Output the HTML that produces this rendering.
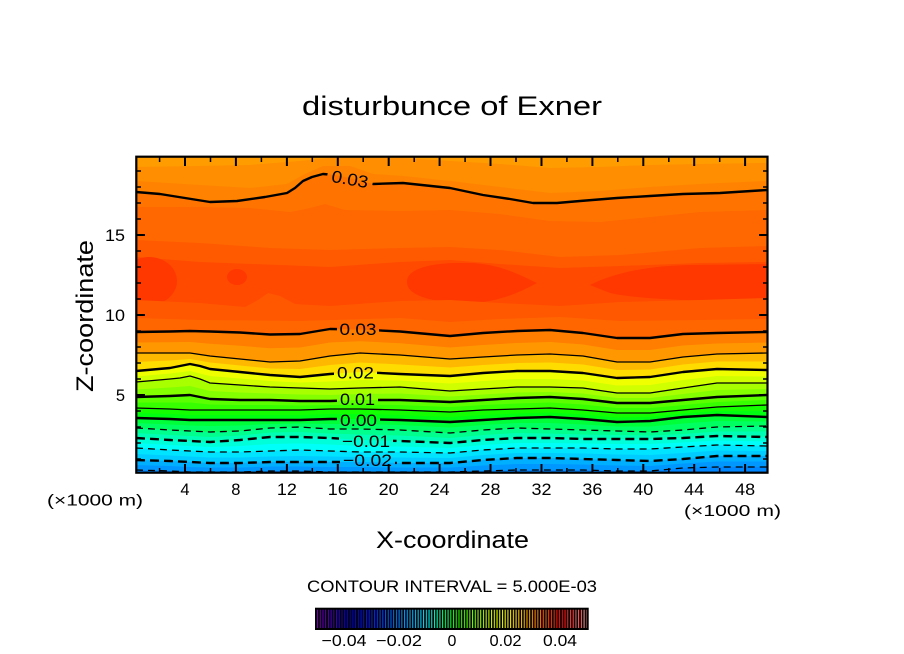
<!DOCTYPE html>
<html>
<head>
<meta charset="utf-8">
<style>
html,body{margin:0;padding:0;background:#fff;}
svg{display:block;}
text{font-family:"Liberation Sans",sans-serif;fill:#000;}
</style>
</head>
<body>
<svg width="904" height="654" viewBox="0 0 904 654" xmlns="http://www.w3.org/2000/svg">
<defs>
  <clipPath id="pc"><rect x="136" y="157" width="631.5" height="316"/></clipPath>
  <mask id="lm" maskUnits="userSpaceOnUse" x="0" y="0" width="904" height="654">
    <rect x="0" y="0" width="904" height="654" fill="#fff"/>
    <rect x="327" y="169" width="46" height="20" fill="#000" transform="rotate(11 350 179)"/>
    <rect x="337" y="321" width="42" height="16" fill="#000"/>
    <rect x="334" y="364" width="43" height="17" fill="#000"/>
    <rect x="337" y="391" width="41" height="16" fill="#000"/>
    <rect x="337" y="412" width="43" height="15" fill="#000"/>
    <rect x="339" y="433" width="54" height="16" fill="#000"/>
    <rect x="340" y="454" width="55" height="14" fill="#000"/>
  </mask>
  <linearGradient id="cbg" gradientUnits="userSpaceOnUse" x1="317" y1="0" x2="588" y2="0">
    <stop offset="0" stop-color="#7a00b4"/>
    <stop offset="0.06" stop-color="#4000c0"/>
    <stop offset="0.12" stop-color="#0000c8"/>
    <stop offset="0.20" stop-color="#0020f0"/>
    <stop offset="0.27" stop-color="#0064ff"/>
    <stop offset="0.34" stop-color="#00a8ff"/>
    <stop offset="0.40" stop-color="#00e0ff"/>
    <stop offset="0.44" stop-color="#00ffc0"/>
    <stop offset="0.48" stop-color="#00ff60"/>
    <stop offset="0.51" stop-color="#10ff00"/>
    <stop offset="0.58" stop-color="#80ff00"/>
    <stop offset="0.64" stop-color="#d0ff00"/>
    <stop offset="0.70" stop-color="#ffff00"/>
    <stop offset="0.74" stop-color="#ffd000"/>
    <stop offset="0.80" stop-color="#ff9000"/>
    <stop offset="0.86" stop-color="#ff4000"/>
    <stop offset="0.90" stop-color="#ff0000"/>
    <stop offset="0.95" stop-color="#ff5050"/>
    <stop offset="1" stop-color="#ff9090"/>
  </linearGradient>
  <pattern id="st" x="317" y="0" width="2.72" height="654" patternUnits="userSpaceOnUse">
    <rect x="1.05" y="0" width="1.67" height="654" fill="#000"/>
  </pattern>
</defs>

<!-- Title -->
<text x="302" y="115" font-size="27" textLength="300" lengthAdjust="spacingAndGlyphs">disturbunce of Exner</text>

<!-- Filled contours -->
<g clip-path="url(#pc)">
  <rect x="136" y="157" width="632" height="317" fill="#ff9c00"/>
  <polygon fill="#ff8e00" points="136,475 136,167 200,166 250,165 300,161 330,158 400,158 450,161 500,164 550,168 600,167 650,165 700,164 767,163 768,475"/>
  <polygon fill="#ff8200" points="136,475 136,181 200,185 250,188 287,184 303,175 323,166 350,166 373,174 403,176 450,181 500,187 550,193 600,191 650,187 700,184 767,181 768,475"/>
  <polygon fill="#ff7400" points="136,475 136,192 160,194 185,198 210,202 237,201 265,197 287,193 295,188 303,181 312,177 323,174 335,175 350,178 373,184 403,183 450,188 483,195 510,199 533,203 557,203 580,201 617,198 650,196 683,194 720,193 767,190 768,475"/>
  <polygon fill="#ff6800" points="136,475 136,207 200,207 250,208 290,212 310,208 325,204 345,210 400,211 450,210 500,214 550,221 600,222 650,217 700,212 767,210 768,475"/>
  <polygon fill="#ff5a00" points="136,475 136,240 200,243 270,248 330,250 400,248 450,247 500,250 560,257 620,255 700,248 767,246 768,475"/>
  <polygon fill="#ff4a00" points="136,475 136,257 200,262 280,265 330,267 400,262 450,260 500,264 560,268 620,266 700,263 767,262 768,475"/>
  <ellipse cx="149" cy="281" rx="28" ry="24" fill="#ff3800"/>
  <ellipse cx="237" cy="277" rx="10" ry="8" fill="#ff3800"/>
  <path fill="#ff3800" d="M407,282 C407,266 440,262 470,263 C500,264 520,275 537,283 C520,292 500,302 470,303 C440,303 407,298 407,282 Z"/>
  <path fill="#ff3800" d="M590,285 C610,275 640,266 690,265 L768,264 L768,301 C720,302 640,300 610,293 Z"/>
  <polygon fill="#ff5800" points="136,475 136,300 200,303 245,307 258,300 268,293 280,296 295,304 330,306 400,301 450,300 500,303 560,306 620,302 700,300 767,298 768,475"/>
  <polygon fill="#ff6600" points="136,475 136,318 200,320 300,321 400,318 450,322 500,319 560,317 620,321 700,320 767,319 768,475"/>
  <polygon fill="#ff7e00" points="136,475 136,332 170,331.5 190,331 210,331.5 240,332.5 270,334.5 300,334 330,329 360,329.5 400,331.5 450,336 483,333 517,331 550,330 583,333 617,338 650,338 683,334 717,333 767,332 768,475"/>
  <polygon fill="#ff9800" points="136,475 136,342.5 170,342.3 190,342 210,343.8 240,345.8 270,348.3 300,347.5 330,342.5 360,341.3 400,343.3 450,347.5 483,345 517,343 550,342 583,344.5 617,350 650,350 683,345.5 717,343.5 767,342.5 768,475"/>
  <polygon fill="#ffb800" points="136,475 136,353 170,353 190,353 210,356 240,359 270,362 300,361 330,356 360,353 400,355 450,359 483,357 517,355 550,354 583,356 617,362 650,362 683,357 717,354 767,353 768,475"/>
  <polygon fill="#ffdc00" points="136,475 136,362 170,360.5 190,359 210,362.5 240,365.5 270,368.5 300,369 330,365 360,362.5 400,364.5 450,367.5 483,365 517,363 550,362.5 583,364.5 617,370 650,369.5 683,364.5 717,361.5 767,361.5 768,475"/>
  <polygon fill="#f0ff00" points="136,475 136,371 170,368 190,365 210,369 240,372 270,375 300,377 330,374 360,372 400,374 450,376 483,373 517,371 550,371 583,373 617,378 650,377 683,372 717,369 767,370 768,475"/>
  <polygon fill="#d0ff00" points="136,475 136,376.5 170,373.5 190,371 210,376 240,378.5 270,381 300,382.5 330,381.5 360,380 400,380.5 450,383.5 483,381 517,379 550,379 583,380.5 617,385.5 650,385 683,380 717,376 767,376.5 768,475"/>
  <polygon fill="#a8ff00" points="136,475 136,382 170,379 190,377 210,383 240,385 270,387 300,388 330,389 360,388 400,387 450,391 483,389 517,387 550,387 583,388 617,393 650,393 683,388 717,383 767,383 768,475"/>
  <polygon fill="#84ff00" points="136,475 136,389.5 170,387.5 190,386 210,391 240,392.5 270,393.5 300,394.5 330,395 360,394 400,393.5 450,396.5 483,394.5 517,392.5 550,392 583,393.5 617,398 650,398 683,394 717,390 767,389 768,475"/>
  <polygon fill="#5cff00" points="136,475 136,397 170,396 190,395 210,399 240,400 270,400 300,401 330,401 360,400 400,400 450,402 483,400 517,398 550,397 583,399 617,403 650,403 683,400 717,397 767,395 768,475"/>
  <polygon fill="#38ff00" points="136,475 136,402.5 170,402.5 190,402.5 210,404.5 240,405 270,405 300,405.5 330,405 360,404.5 400,405 450,407 483,405 517,403.5 550,402.5 583,404.5 617,408 650,408 683,405 717,402 767,400 768,475"/>
  <polygon fill="#14ff00" points="136,475 136,408 170,409 190,410 210,410 240,410 270,410 300,410 330,409 360,409 400,410 450,412 483,410 517,409 550,408 583,410 617,413 650,413 683,410 717,407 767,405 768,475"/>
  <polygon fill="#00ff10" points="136,475 136,413 170,414 190,415 210,415 240,415 270,415 300,415 330,414 360,414 400,415 450,417 483,415 517,413.5 550,412.5 583,414.5 617,417.5 650,417 683,413.5 717,411 767,411 768,475"/>
  <polygon fill="#00ff38" points="136,475 136,418 170,419 190,420 210,420 240,420 270,420 300,420 330,419 360,419 400,420 450,422 483,420 517,418 550,417 583,419 617,422 650,421 683,417 717,415 767,417 768,475"/>
  <polygon fill="#00ff60" points="136,475 136,423 170,424.5 190,425.5 210,426 240,425.5 270,424 300,423.5 330,424 360,424 400,425 450,427.5 483,425 517,423 550,423 583,424.5 617,426.5 650,426.5 683,423.5 717,421 767,421.5 768,475"/>
  <polygon fill="#00ff8c" points="136,475 136,428 170,430 190,431 210,432 240,431 270,428 300,427 330,429 360,429 400,430 450,433 483,430 517,428 550,429 583,430 617,431 650,432 683,430 717,427 767,426 768,475"/>
  <polygon fill="#00ffb4" points="136,475 136,433 170,435 190,436 210,437 240,435.5 270,432.5 300,432 330,433.5 360,434.5 400,435.5 450,438 483,435 517,433 550,433.5 583,434.5 617,435 650,435.5 683,434 717,431.5 767,431.5 768,475"/>
  <polygon fill="#00ffd8" points="136,475 136,438 170,440 190,441 210,442 240,440 270,437 300,437 330,438 360,440 400,441 450,443 483,440 517,438 550,438 583,439 617,439 650,439 683,438 717,436 767,437 768,475"/>
  <polygon fill="#00fff8" points="136,475 136,443 170,445 190,446 210,447 240,446 270,444 300,443.5 330,444.5 360,446 400,446.5 450,448 483,445 517,443 550,443 583,443.5 617,444 650,444 683,442.5 717,440.5 767,441.5 768,475"/>
  <polygon fill="#00e4ff" points="136,475 136,448 170,450 190,451 210,452 240,452 270,451 300,450 330,451 360,452 400,452 450,453 483,450 517,448 550,448 583,448 617,449 650,449 683,447 717,445 767,446 768,475"/>
  <polygon fill="#00ccff" points="136,475 136,454 170,455.5 190,456.5 210,457.5 240,457.5 270,456.5 300,456 330,456.5 360,457 400,457.5 450,458 483,455 517,453 550,453 583,453.5 617,454.5 650,455 683,453 717,450.5 767,451 768,475"/>
  <polygon fill="#00b0ff" points="136,475 136,460 170,461 190,462 210,463 240,463 270,462 300,462 330,462 360,462 400,463 450,463 483,460 517,458 550,458 583,459 617,460 650,461 683,459 717,456 767,456 768,475"/>
  <polygon fill="#0098ff" points="136,475 136,465 170,466 190,467 210,467.5 240,467.5 270,466.5 300,466.5 330,467 360,467 400,467.5 450,467.5 483,465.5 517,464 550,464 583,464.5 617,465.5 650,466 683,463.5 717,461.5 767,461.5 768,475"/>
  <polygon fill="#0086ff" points="136,475 136,470 170,471 190,472 210,472 240,472 270,471 300,471 330,472 360,472 400,472 450,472 483,471 517,470 550,470 583,470 617,471 650,471 683,468 717,467 767,467 768,475"/>

  <g fill="none" stroke="#000" stroke-width="1.3" stroke-linejoin="round">
    <polyline points="136,353 170,353 190,353 210,356 240,359 270,362 300,361 330,356 360,353 400,355 450,359 483,357 517,355 550,354 583,356 617,362 650,362 683,357 717,354 767,353"/>
    <polyline points="136,382 170,379 180,378 190,376 200,379 210,383 240,385 270,387 300,388 330,389 360,388 400,387 450,391 483,389 517,387 550,387 583,388 617,393 650,393 683,388 717,383 767,383"/>
    <polyline points="136,408 170,409 190,410 210,410 240,410 270,410 300,410 330,409 360,409 400,410 450,412 483,410 517,409 550,408 583,410 617,413 650,413 683,410 717,407 767,405"/>
  </g>
  <g fill="none" stroke="#000" stroke-width="1.3" stroke-dasharray="7 5">
    <polyline points="136,428 170,430 190,431 210,432 240,431 270,428 300,427 330,429 360,429 400,430 450,433 483,430 517,428 550,429 583,430 617,431 650,432 683,430 717,427 767,426"/>
    <polyline points="136,448 170,450 190,451 210,452 240,452 270,451 300,450 330,451 360,452 400,452 450,453 483,450 517,448 550,448 583,448 617,449 650,449 683,447 717,445 767,446"/>
    <polyline points="136,470 170,471 190,472 210,472 240,472 270,471 300,471 330,472 360,472 400,472 450,472 483,471 517,470 550,470 583,470 617,471 650,471 683,468 717,467 767,467"/>
  </g>
  <g mask="url(#lm)" fill="none" stroke="#000" stroke-width="2.4" stroke-linejoin="round">
    <polyline points="136,192 160,194 185,198 210,202 237,201 265,197 287,193 295,188 303,181 312,177 323,174 335,175 350,178 373,184 403,183 450,188 483,195 510,199 533,203 557,203 580,201 617,198 650,196 683,194 720,193 767,190"/>
    <polyline points="136,332 170,331.5 190,331 210,331.5 240,332.5 270,334.5 300,334 330,329 360,329.5 400,331.5 450,336 483,333 517,331 550,330 583,333 617,338 650,338 683,334 717,333 767,332"/>
    <polyline points="136,371 170,368 180,366 190,364 200,366 210,369 240,372 270,375 300,377 330,374 360,372 400,374 450,376 483,373 517,371 550,371 583,373 617,378 650,377 683,372 717,369 767,370"/>
    <polyline points="136,397 170,396 190,395 210,399 240,400 270,400 300,401 330,401 360,400 400,400 450,402 483,400 517,398 550,397 583,399 617,403 650,403 683,400 717,397 767,395"/>
    <polyline points="136,418 170,419 190,420 210,420 240,420 270,420 300,420 330,419 360,419 400,420 450,422 483,420 517,418 550,417 583,419 617,422 650,421 683,417 717,415 767,417"/>
    <g stroke-dasharray="9 5">
      <polyline points="136,438 170,440 190,441 210,442 240,440 270,437 300,437 330,438 360,440 400,441 450,443 483,440 517,438 550,438 583,439 617,439 650,439 683,438 717,436 767,437"/>
      <polyline points="136,460 170,461 190,462 210,463 240,463 270,462 300,462 330,462 360,462 400,463 450,463 483,460 517,458 550,458 583,459 617,460 650,461 683,459 717,456 767,456"/>
    </g>
  </g>
</g>

<g font-size="17">
  <text x="350" y="185" text-anchor="middle" textLength="37" lengthAdjust="spacingAndGlyphs" transform="rotate(10 350 179)">0.03</text>
  <text x="358" y="335" text-anchor="middle" textLength="37" lengthAdjust="spacingAndGlyphs">0.03</text>
  <text x="355.5" y="378.5" text-anchor="middle" textLength="37" lengthAdjust="spacingAndGlyphs">0.02</text>
  <text x="357.5" y="405" text-anchor="middle" textLength="35" lengthAdjust="spacingAndGlyphs">0.01</text>
  <text x="358.5" y="426" text-anchor="middle" textLength="37" lengthAdjust="spacingAndGlyphs">0.00</text>
  <text x="366" y="447" text-anchor="middle" textLength="48" lengthAdjust="spacingAndGlyphs">−0.01</text>
  <text x="367.5" y="466" text-anchor="middle" textLength="49" lengthAdjust="spacingAndGlyphs">−0.02</text>
</g>

<rect x="136.3" y="156.7" width="631.2" height="316" fill="none" stroke="#000" stroke-width="2.2"/>

<g stroke="#000" stroke-width="2" fill="none">
  <path d="M185,157v9M235.9,157v9M286.9,157v9M337.8,157v9M388.7,157v9M439.6,157v9M490.5,157v9M541.5,157v9M592.4,157v9M643.3,157v9M694.2,157v9M745.1,157v9"/>
  <path d="M185,473v-9M235.9,473v-9M286.9,473v-9M337.8,473v-9M388.7,473v-9M439.6,473v-9M490.5,473v-9M541.5,473v-9M592.4,473v-9M643.3,473v-9M694.2,473v-9M745.1,473v-9"/>
  <path stroke-width="1.5" d="M159.6,157v5M210.5,157v5M261.4,157v5M312.3,157v5M363.2,157v5M414.2,157v5M465.1,157v5M516,157v5M566.9,157v5M617.8,157v5M668.8,157v5M719.7,157v5"/>
  <path stroke-width="1.5" d="M159.6,473v-5M210.5,473v-5M261.4,473v-5M312.3,473v-5M363.2,473v-5M414.2,473v-5M465.1,473v-5M516,473v-5M566.9,473v-5M617.8,473v-5M668.8,473v-5M719.7,473v-5"/>
  <path d="M136,395h9M136,315h9M136,235h9M768,395h-9M768,315h-9M768,235h-9"/>
  <path stroke-width="1.5" d="M136,459h5M136,443h5M136,427h5M136,411h5M136,379h5M136,363h5M136,347h5M136,331h5M136,299h5M136,283h5M136,267h5M136,251h5M136,219h5M136,203h5M136,187h5M136,171h5"/>
  <path stroke-width="1.5" d="M768,459h-5M768,443h-5M768,427h-5M768,411h-5M768,379h-5M768,363h-5M768,347h-5M768,331h-5M768,299h-5M768,283h-5M768,267h-5M768,251h-5M768,219h-5M768,203h-5M768,187h-5M768,171h-5"/>
</g>

<g font-size="16.5" text-anchor="end">
  <text x="125" y="241" textLength="20" lengthAdjust="spacingAndGlyphs">15</text>
  <text x="125" y="321" textLength="20" lengthAdjust="spacingAndGlyphs">10</text>
  <text x="125" y="401">5</text>
</g>

<g font-size="16.5" text-anchor="middle">
  <text x="185" y="495">4</text>
  <text x="235.9" y="495">8</text>
  <text x="286.9" y="495" textLength="20" lengthAdjust="spacingAndGlyphs">12</text>
  <text x="337.8" y="495" textLength="20" lengthAdjust="spacingAndGlyphs">16</text>
  <text x="388.7" y="495" textLength="20" lengthAdjust="spacingAndGlyphs">20</text>
  <text x="439.6" y="495" textLength="20" lengthAdjust="spacingAndGlyphs">24</text>
  <text x="490.5" y="495" textLength="20" lengthAdjust="spacingAndGlyphs">28</text>
  <text x="541.5" y="495" textLength="20" lengthAdjust="spacingAndGlyphs">32</text>
  <text x="592.4" y="495" textLength="20" lengthAdjust="spacingAndGlyphs">36</text>
  <text x="643.3" y="495" textLength="20" lengthAdjust="spacingAndGlyphs">40</text>
  <text x="694.2" y="495" textLength="20" lengthAdjust="spacingAndGlyphs">44</text>
  <text x="745.1" y="495" textLength="20" lengthAdjust="spacingAndGlyphs">48</text>
</g>

<text x="47" y="505.5" font-size="16" textLength="96" lengthAdjust="spacingAndGlyphs">(×1000 m)</text>
<text x="684" y="516" font-size="16" textLength="97" lengthAdjust="spacingAndGlyphs">(×1000 m)</text>

<text x="376" y="548" font-size="24" textLength="153" lengthAdjust="spacingAndGlyphs">X-coordinate</text>
<text x="0" y="0" font-size="24" textLength="152" lengthAdjust="spacingAndGlyphs" transform="translate(93,392) rotate(-90)">Z-coordinate</text>

<text x="307" y="592" font-size="16.5" textLength="290" lengthAdjust="spacingAndGlyphs">CONTOUR INTERVAL = 5.000E-03</text>

<rect x="316" y="608.7" width="271.7" height="20.3" fill="#000"/>
<rect x="317" y="609.5" width="270" height="18.5" fill="url(#cbg)"/>
<rect x="317" y="609.5" width="270" height="18.5" fill="url(#st)"/>
<rect x="316" y="608.7" width="271.7" height="20.3" fill="none" stroke="#000" stroke-width="2"/>

<g font-size="16" text-anchor="middle">
  <text x="344" y="646" textLength="45" lengthAdjust="spacingAndGlyphs">−0.04</text>
  <text x="399" y="646" textLength="46" lengthAdjust="spacingAndGlyphs">−0.02</text>
  <text x="452" y="646">0</text>
  <text x="505.5" y="646" textLength="32" lengthAdjust="spacingAndGlyphs">0.02</text>
  <text x="560" y="646" textLength="34" lengthAdjust="spacingAndGlyphs">0.04</text>
</g>
</svg>
</body>
</html>
